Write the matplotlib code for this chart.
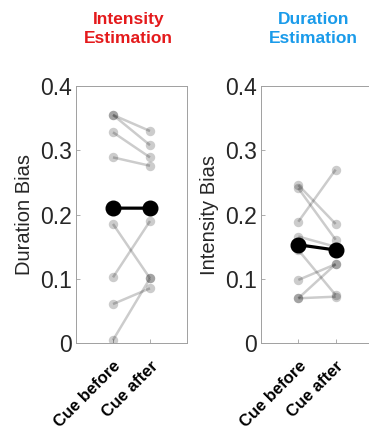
import numpy as np
import matplotlib
matplotlib.use("Agg")
import matplotlib.pyplot as plt

plt.rcParams['font.family'] = ['Liberation Sans', 'DejaVu Sans']

conditions = ["Cue before", "Cue after"]
yticks = [0, 0.1, 0.2, 0.3, 0.4]
ytick_labels = ["0", "0.1", "0.2", "0.3", "0.4"]

# Panel 1: Intensity Estimation -> Duration Bias
int_before = [0.355, 0.355, 0.328, 0.289, 0.1855, 0.1026, 0.061, 0.005]
int_after = [0.330, 0.308, 0.289, 0.276, 0.101, 0.190, 0.0855, 0.101]

# Panel 2: Duration Estimation -> Intensity Bias
dur_before = [0.246, 0.241, 0.189, 0.166, 0.145, 0.0985, 0.070, 0.070]
dur_after = [0.1855, 0.161, 0.270, 0.150, 0.075, 0.123, 0.0725, 0.123]

panels = [
    ("Intensity\nEstimation", "#e41a1c", "Duration Bias", int_before, int_after),
    ("Duration\nEstimation", "#1a9bea", "Intensity Bias", dur_before, dur_after),
]

W, H = 369, 433
fig = plt.figure(figsize=(W / 100, H / 100), dpi=100)

ax_lefts = [76, 261]
ax_ws = [111, 112]
ax_top = 86
ax_bot = 343.3
spine_col = "#a0a0a0"
text_col = "#262626"

for (title, tcol, ylabel, before, after), left, ax_w in zip(panels, ax_lefts, ax_ws):
    ax = fig.add_axes([left / W, (H - ax_bot) / H, ax_w / W, (ax_bot - ax_top) / H])
    xs = [1, 2]
    for b, a in zip(before, after):
        ax.plot(xs, [b, a], color="k", alpha=0.2, lw=1.8, marker="o",
                markersize=6.8, markeredgewidth=0, solid_capstyle="butt")
    ax.plot(xs, [np.mean(before), np.mean(after)], color="k", lw=2.3,
            marker="o", markersize=10.5, zorder=5)
    ax.set_xlim(0, 3)
    ax.set_ylim(0, 0.4)
    ax.set_xticks(xs)
    ax.set_xticklabels(conditions, rotation=45, ha="right", rotation_mode="anchor",
                       fontsize=12, fontweight="bold", color="k")
    ax.set_yticks(yticks)
    ax.set_yticklabels(ytick_labels, fontsize=16.5, color=text_col)
    ax.tick_params(axis="both", direction="in", length=3, width=0.6, color=spine_col)
    ax.tick_params(axis="x", pad=11)
    ax.tick_params(axis="y", pad=3)
    for s in ax.spines.values():
        s.set_color(spine_col)
        s.set_linewidth(0.7)
    ax.set_ylabel(ylabel, fontsize=14.5, color=text_col, labelpad=4)
    cx = (left + 111 / 2) / W
    fig.text(cx - 3 / W, 1 - 29 / H, title, color=tcol, fontsize=12.5,
             fontweight="bold", ha="center", va="center", linespacing=1.35)

fig.savefig("out.png", dpi=100)
